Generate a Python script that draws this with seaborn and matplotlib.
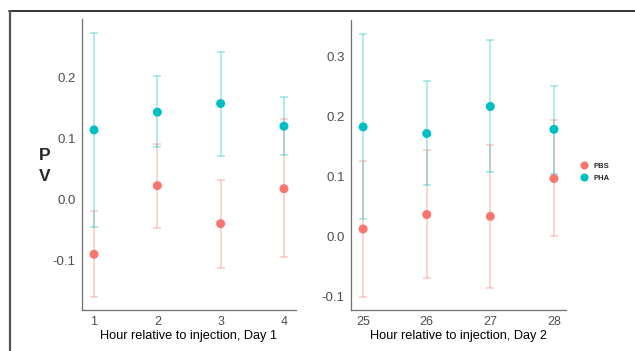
import matplotlib
matplotlib.use("Agg")
import matplotlib.pyplot as plt
import seaborn as sns
import pandas as pd
from matplotlib.lines import Line2D

# Day 1 values
hours_day1 = [1, 2, 3, 4]
pbs_day1 = [-0.089, 0.023, -0.039, 0.018]
pbs_day1_lo = [-0.158, -0.046, -0.111, -0.094]
pbs_day1_hi = [-0.018, 0.091, 0.033, 0.132]
pha_day1 = [0.114, 0.143, 0.157, 0.120]
pha_day1_lo = [-0.045, 0.086, 0.072, 0.073]
pha_day1_hi = [0.273, 0.202, 0.241, 0.168]

# Day 2 values
hours_day2 = [25, 26, 27, 28]
pbs_day2 = [0.012, 0.036, 0.033, 0.096]
pbs_day2_lo = [-0.101, -0.070, -0.087, 0.001]
pbs_day2_hi = [0.125, 0.144, 0.152, 0.193]
pha_day2 = [0.182, 0.171, 0.216, 0.178]
pha_day2_lo = [0.028, 0.085, 0.107, 0.103]
pha_day2_hi = [0.337, 0.259, 0.327, 0.251]

day1_yticks = [-0.1, 0.0, 0.1, 0.2]
day2_yticks = [-0.1, 0.0, 0.1, 0.2, 0.3]

colors = {'PBS': '#F8766D', 'PHA': '#00BFC4'}

sns.set_style("white")
plt.rcParams['font.family'] = ['Liberation Sans', 'DejaVu Sans']


def build_df(hours, pbs, pbs_lo, pbs_hi, pha, pha_lo, pha_hi):
    rows = []
    for i, h in enumerate(hours):
        rows.append({'hour': h, 'group': 'PBS', 'pv': pbs[i], 'lo': pbs_lo[i], 'hi': pbs_hi[i]})
    for i, h in enumerate(hours):
        rows.append({'hour': h, 'group': 'PHA', 'pv': pha[i], 'lo': pha_lo[i], 'hi': pha_hi[i]})
    return pd.DataFrame(rows)


def draw_panel(ax, df, xticks, yticks, xlabel, xlim, ylim, legend):
    for group in ['PBS', 'PHA']:
        sub = df[df['group'] == group]
        ax.errorbar(sub['hour'], sub['pv'],
                    yerr=[sub['pv'] - sub['lo'], sub['hi'] - sub['pv']],
                    fmt='none', ecolor=colors[group], alpha=0.4,
                    elinewidth=1.1, capsize=3, capthick=1.1, zorder=1)
    sns.scatterplot(data=df, x='hour', y='pv', hue='group', palette=colors,
                    s=42, edgecolor='none', ax=ax, zorder=3, legend=legend)
    ax.set_xlim(*xlim)
    ax.set_ylim(*ylim)
    ax.set_xticks(xticks)
    ax.set_yticks(yticks)
    ax.set_yticklabels(['%.1f' % t for t in yticks], fontsize=9.5, color='#4D4D4D')
    ax.set_xticklabels([str(t) for t in xticks], fontsize=9, color='#4D4D4D')
    ax.set_xlabel(xlabel, fontsize=9.2, color='black', labelpad=1)
    ax.set_ylabel('')
    ax.tick_params(axis='both', length=3, width=0.8, color='#555555', pad=1.5)
    for side in ['top', 'right']:
        ax.spines[side].set_visible(False)
    for side in ['left', 'bottom']:
        ax.spines[side].set_color('#707070')
        ax.spines[side].set_linewidth(0.9)


fig = plt.figure(figsize=(6.35, 3.51), dpi=100)
ax1 = fig.add_axes([0.1291, 0.1168, 0.337, 0.829])
ax2 = fig.add_axes([0.5528, 0.1168, 0.3386, 0.826])

df1 = build_df(hours_day1, pbs_day1, pbs_day1_lo, pbs_day1_hi, pha_day1, pha_day1_lo, pha_day1_hi)
df2 = build_df(hours_day2, pbs_day2, pbs_day2_lo, pbs_day2_hi, pha_day2, pha_day2_lo, pha_day2_hi)

draw_panel(ax1, df1, hours_day1, day1_yticks, 'Hour relative to injection, Day 1',
           (0.81, 4.19), (-0.180, 0.295), False)
draw_panel(ax2, df2, hours_day2, day2_yticks, 'Hour relative to injection, Day 2',
           (24.81, 28.19), (-0.123, 0.360), True)

# y label "PV" stacked
fig.text(0.070, 0.527, 'P\nV', fontsize=12.5, fontweight='bold', ha='center', va='center',
         linespacing=1.45)

# legend to the right of the second panel
handles, labels = ax2.get_legend_handles_labels()
ax2.legend(handles, labels, loc='center left', bbox_to_anchor=(1.03, 0.476), frameon=False,
           prop={'size': 5.5, 'weight': 'bold'},
           handletextpad=0.6, labelspacing=0.6, markerscale=0.9, handlelength=1.2)

# frame of the screenshot
fig.add_artist(Line2D([9 / 635, 1.0], [1 - 11 / 351, 1 - 11 / 351], transform=fig.transFigure,
                      color='#222222', linewidth=1.3))
fig.add_artist(Line2D([10 / 635, 10 / 635], [0, 1 - 11 / 351], transform=fig.transFigure,
                      color='#555555', linewidth=1.6))

fig.savefig('out.png', dpi=100)
plt.close(fig)
